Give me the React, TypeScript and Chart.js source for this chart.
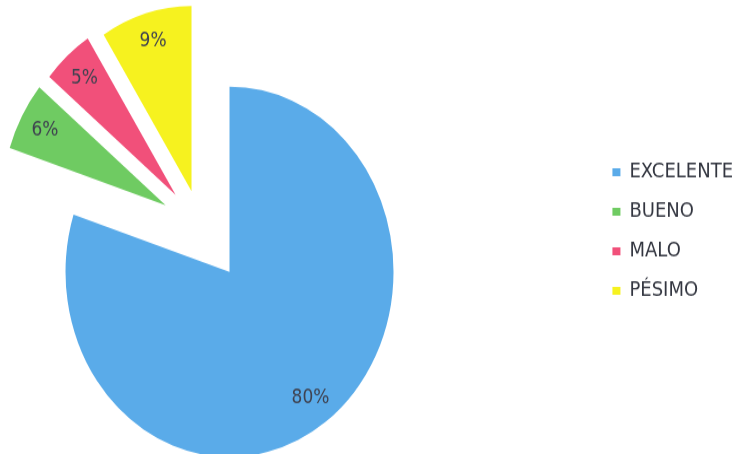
import React, { useEffect, useRef } from "react";
import { Chart, registerables } from "chart.js";

Chart.register(...registerables);

// ---- data ----
const categories = ["EXCELENTE", "BUENO", "MALO", "PÉSIMO"];
const percentages = [80, 6, 5, 9];

// ---- styles ----
const sliceColors = ["#5aabe9", "#6fcb62", "#f1507a", "#f6f21f"];
const explodeDistance = [49, 40, 38, 33];
const FONT = "'DejaVu Sans', sans-serif";
const CANVAS_LEFT = -194;
const CANVAS_W = 937;
const CANVAS_H = 402;
const STRETCH_Y = 454 / CANVAS_H;

const explodePlugin = {
  id: "explodeSlices",
  afterDatasetsUpdate(chart: any) {
    const meta = chart.getDatasetMeta(0);
    meta.data.forEach((arc: any, i: number) => {
      const mid = (arc.startAngle + arc.endAngle) / 2;
      arc.x += Math.cos(mid) * explodeDistance[i];
      arc.y += Math.sin(mid) * explodeDistance[i];
    });
  },
};

const percentLabelPlugin = {
  id: "percentLabels",
  afterDatasetsDraw(chart: any) {
    const ctx = chart.ctx;
    const meta = chart.getDatasetMeta(0);
    ctx.save();
    ctx.font = `17px ${FONT}`;
    ctx.fillStyle = "#3f4250";
    ctx.textAlign = "center";
    ctx.textBaseline = "middle";
    meta.data.forEach((arc: any, i: number) => {
      const mid = (arc.startAngle + arc.endAngle) / 2;
      const r = arc.outerRadius * 0.84;
      ctx.fillText(`${percentages[i]}%`, arc.x + Math.cos(mid) * r, arc.y + Math.sin(mid) * r);
    });
    ctx.restore();
  },
};

export default function App() {
  const canvasRef = useRef<HTMLCanvasElement | null>(null);

  useEffect(() => {
    if (!canvasRef.current) return;
    const chart = new Chart(canvasRef.current, {
      type: "pie",
      data: {
        labels: categories,
        datasets: [
          {
            data: percentages,
            backgroundColor: sliceColors,
            borderWidth: 0,
            radius: 164,
          } as any,
        ],
      },
      options: {
        animation: false,
        responsive: true,
        maintainAspectRatio: false,
        layout: { padding: 0 },
        plugins: {
          tooltip: { enabled: false },
          legend: {
            position: "right",
            title: {
              display: true,
              text: "",
              font: { size: 1 },
              padding: { top: 7, bottom: 0 },
            },
            labels: {
              boxWidth: 8,
              boxHeight: 7,
              padding: 17,
              color: "#333640",
              font: { family: FONT, size: 18 },
            },
          },
        },
      },
      plugins: [explodePlugin, percentLabelPlugin],
    });
    return () => chart.destroy();
  }, []);

  return (
    <div
      style={{
        position: "fixed",
        left: 0,
        top: 0,
        width: 736,
        height: 454,
        overflow: "hidden",
        background: "#ffffff",
      }}
    >
      <div
        style={{
          position: "absolute",
          left: CANVAS_LEFT,
          top: 0,
          width: CANVAS_W,
          height: CANVAS_H,
          transform: `scaleY(${STRETCH_Y})`,
          transformOrigin: "0 0",
        }}
      >
        <canvas ref={canvasRef} />
      </div>
    </div>
  );
}
